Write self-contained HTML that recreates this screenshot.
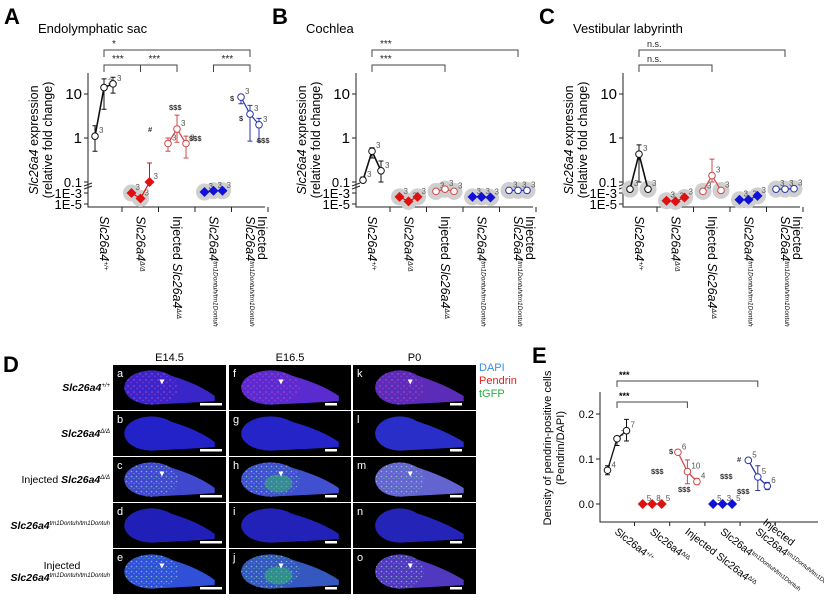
<!DOCTYPE html>
<html><head><meta charset="utf-8"><style>
body{margin:0;background:#fff;}
svg{display:block;font-family:"Liberation Sans",sans-serif;}
</style></head><body>
<svg id="fig" width="824" height="607" viewBox="0 0 824 607" xmlns="http://www.w3.org/2000/svg">
<defs>
<pattern id="pdots" width="6" height="6" patternUnits="userSpaceOnUse"><circle cx="2" cy="2" r="0.9" fill="#e050c0"/><circle cx="5" cy="4.5" r="0.7" fill="#c040ff"/></pattern>
<pattern id="gdots" width="5" height="5" patternUnits="userSpaceOnUse"><circle cx="1.5" cy="1.5" r="0.8" fill="#d0ffd0"/><circle cx="4" cy="3.5" r="0.6" fill="#60ff80"/></pattern>
</defs>
<g id="panels"></g>
</svg>
<script>
// ---------- data (panels A-C: log scale, 5 groups x 3 points) ----------
const catLabels = ["+/+","Δ/Δ","injΔ","tm","injtm"];
const aVals = [[1.1,14,17],[1e-3,1e-4,0.1],[0.75,1.6,0.75],[1.5e-3,2.5e-3,2.5e-3],[8.5,3.5,2]];
const aLo   = [[0.5,4.5,10.5],[null,null,0.1],[0.5,0.8,0.35],[null,null,null],[6,0.85,0.85]];
const aHi   = [[1.9,22,24],[null,null,0.27],[1,3.3,1.1],[null,null,null],[9.5,5.5,2.8]];
const bVals = [[0.11,0.5,0.18],[2e-4,3e-5,2e-4],[2e-3,5e-3,2e-3],[2e-4,2e-4,1.5e-4],[3e-3,3e-3,3e-3]];
const bLo   = [[0.09,0.35,0.1],[null,null,null],[null,null,null],[null,null,null],[null,null,null]];
const bHi   = [[0.13,0.6,0.3],[null,null,null],[null,null,null],[null,null,null],[null,null,null]];
const cVals = [[5e-3,0.43,5e-3],[4e-5,3e-5,1.5e-4],[2e-3,0.14,3e-3],[6e-5,6e-5,3e-4],[5e-3,5e-3,6e-3]];
const cLo   = [[null,0.1,null],[null,null,null],[null,0.1,null],[null,null,null],[null,null,null]];
const cHi   = [[null,0.7,null],[null,null,null],[null,0.33,null],[null,null,null],[null,null,null]];
const yTickLabels = ["10","1","0.1","1E-3","1E-5"];
const yTickValues = [10,1,0.1,1e-3,1e-5];
// ---------- panel E data ----------
const eVals = [[0.075,0.145,0.163],[0,0,0],[0.115,0.072,0.05],[0,0,0],[0.097,0.06,0.04]];
const eLo   = [[0.065,0.13,0.14],[null,null,null],[0.11,0.045,0.043],[null,null,null],[0.093,0.03,0.032]];
const eHi   = [[0.085,0.15,0.188],[null,null,null],[0.12,0.098,0.057],[null,null,null],[0.1,0.085,0.048]];
const eN    = [["4","7","7"],["5","8","5"],["6","10","4"],["5","3","5"],["5","5","6"]];
const eTickLabels = ["0.2","0.1","0.0"];
const eTickValues = [0.2,0.1,0];

const NS="http://www.w3.org/2000/svg";
const root=document.getElementById('panels');
function el(tag,attrs,parent,txt){const e=document.createElementNS(NS,tag);for(const k in attrs)e.setAttribute(k,attrs[k]);if(txt!==undefined)e.textContent=txt;(parent||root).appendChild(e);return e;}
const colors=["#111","#e01010","#d04848","#1010d8","#2a36a8"];

function yLog(v){const l=Math.log10(v);if(l>=-1)return 138-44*l;return 182+(-1-l)*5.5;}

function logPanel(off,letter,title,vals,lo,hi,brackets){
  const g=el('g',{});
  
  
  const pl=el('text',{x:off+4,y:24,'font-size':22,'font-weight':'bold'},g,letter);
  
  const tt=el('text',{x:off+38,y:33,'font-size':13},g,title);
  
  const ax=off+88;
  const yl=el('path',{d:`M${ax} 73 V207 H${off+265}`,stroke:'#222','stroke-width':1,fill:'none'},g);
  
  el('path',{d:`M${ax-4} 186 l8 -3 M${ax-4} 189 l8 -3`,stroke:'#222','stroke-width':1},g);
  yTickValues.forEach((v,i)=>{const y=yLog(v);
    el('line',{x1:ax-4,x2:ax,y1:y,y2:y,stroke:'#222'},g);
    const t=el('text',{x:ax-6,y:y+5,'font-size':i<2?15:13,'text-anchor':'end'},g,yTickLabels[i]);
    });
  const ytl=el('text',{transform:`translate(${off+38},140) rotate(-90)`,'font-size':12.5,'text-anchor':'middle'},g);
  
  el('tspan',{x:0,y:0,'font-style':'italic'},ytl,'Slc26a4');el('tspan',{},ytl,' expression');
  el('tspan',{x:0,y:14},ytl,'(relative fold change)');
  const cx=i=>off+104+i*36.5;
  for(let i=0;i<5;i++){el('line',{x1:cx(i)+18,x2:cx(i)+18,y1:207,y2:212,stroke:'#222'},g);}
  const labs=[['','Slc26a4','+/+'],['','Slc26a4','Δ/Δ'],['Injected ','Slc26a4','Δ/Δ'],['','Slc26a4','tm1Dontuh/tm1Dontuh'],['','Slc26a4','tm1Dontuh/tm1Dontuh']];
  labs.forEach((L,i)=>{const x=cx(i)-4;
    const t=el('text',{transform:`translate(${x},216) rotate(90)`,'font-size':12.5},g);
    
    if(i==4){el('tspan',{x:0,y:-12},t,'Injected');el('tspan',{x:0,y:0,'font-style':'italic'},t,L[1]);}
    else{if(L[0])el('tspan',{},t,L[0]);el('tspan',{'font-style':'italic'},t,L[1]);}
    el('tspan',{'font-size':6.5,dy:-4,'font-style':'italic'},t,L[2]);});
  vals.forEach((grp,gi)=>{
    const xs=grp.map((v,j)=>cx(gi)+(j-1)*9),ys=grp.map(v=>yLog(v));
    grp.forEach((v,j)=>{if(v<0.1){el('circle',{cx:xs[j],cy:ys[j],r:8.5,fill:'#cfcfcf'},g);}});
    const ln=el('polyline',{points:xs.map((x,j)=>x+','+ys[j]).join(' '),fill:'none',stroke:colors[gi],'stroke-width':gi==0?1.6:1.2},g);
    
    grp.forEach((v,j)=>{
      if(hi[gi][j]!=null){const y1=yLog(hi[gi][j]),y2=yLog(lo[gi][j]);
        el('path',{d:`M${xs[j]} ${y1} V${y2} M${xs[j]-2.5} ${y1} h5 M${xs[j]-2.5} ${y2} h5`,stroke:colors[gi],'stroke-width':1,fill:'none'},g);}
      let p;
      if(gi==1||gi==3){p=el('path',{d:`M${xs[j]} ${ys[j]-5} l5 5 l-5 5 l-5 -5z`,fill:colors[gi]},g);}
      else p=el('circle',{cx:xs[j],cy:ys[j],r:3.3,fill:'#fff',stroke:colors[gi],'stroke-width':1},g);
      
      el('text',{x:xs[j]+4,y:ys[j]-3,'font-size':8,fill:'#555'},g,'3');
    });
  });
  brackets.forEach(br=>{const x1=cx(br[0]),x2=cx(br[1]),y=br[2];
    const b=el('path',{d:`M${x1} ${y+7} V${y} H${x2} V${y+7}`,stroke:'#444',fill:'none','stroke-width':1},g);
    
    el('text',{x:x1+8,y:y-3,'font-size':br[3]=='n.s.'?9:10,fill:'#222'},g,br[3]);});
}
logPanel(0,'A','Endolymphatic sac',aVals,aLo,aHi,[[0,4,50,'*'],[0,2,65,'***'],[1,2,65,'***'],[3,4,65,'***']]);
logPanel(268,'B','Cochlea',bVals,bLo,bHi,[[0,4,50,'***'],[0,2,65,'***']]);
logPanel(535,'C','Vestibular labyrinth',cVals,cLo,cHi,[[0,4,50,'n.s.'],[0,2,65,'n.s.']]);
[['$$$',169,110],['$$$',189,141],['#',148,132],['$',230,101],['$',239,121],['$$$',257,143]].forEach(a=>{el('text',{x:a[1],y:a[2],'font-size':7.5,'font-weight':'bold',fill:'#333'},root,a[0]);});

// ---------- Panel D (micrographs) ----------
const dg=el('g',{});
el('text',{x:3,y:372,'font-size':22,'font-weight':'bold'},dg,'D');
const colX=[113,229,353],colW=[113,122,123],rowY=[365,411,457,503,549],rowH=45;
['E14.5','E16.5','P0'].forEach((t,i)=>{const h=el('text',{x:colX[i]+colW[i]/2,y:361,'font-size':11,'text-anchor':'middle'},dg,t);});
[['DAPI','#3a8ee8',371],['Pendrin','#e02020',384],['tGFP','#20b040',397]].forEach(l=>{const t=el('text',{x:479,y:l[2],'font-size':11,fill:l[1]},dg,l[0]);});
const rowLabels=[['','+/+'],['','Δ/Δ'],['Injected ','Δ/Δ'],['','tm1Dontuh/tm1Dontuh'],['Injected','tm1Dontuh/tm1Dontuh']];
rowLabels.forEach((r,i)=>{const y=rowY[i]+26;
  const t=el('text',{x:110,y:i==4?y+6:y,'font-size':10.5,'text-anchor':'end'},dg);
  
  if(i==2)el('tspan',{},t,r[0]);
  el('tspan',{'font-style':'italic','font-weight':'bold'},t,'Slc26a4');el('tspan',{'font-size':6,dy:-4,'font-style':'italic'},t,r[1]);
  if(i==4){el('text',{x:62,y:y-6,'font-size':10.5,'text-anchor':'middle'},dg,'Injected');}
});
const fills=[["#3a26c8","#5a2cd0","#5a2cb8"],["#2222c8","#2424c8","#2a2ec8"],["#4048d0","#4050d0","#6464d0"],["#2020b8","#2222b8","#2424b8"],["#3050d8","#3458c0","#5038c0"]];
const letters="abcdefghijklmno";
for(let c=0;c<3;c++)for(let r=0;r<5;r++){
  const x=colX[c],y=rowY[r],w=colW[c];
  const tg=el('g',{},dg);
  el('rect',{x:x,y:y,width:w,height:rowH,fill:'#000'},tg);
  const hx=x+w*(c==2?0.38:0.34),hy=y+rowH*0.5,rx=w*(c==2?0.2:0.24),ry=rowH*0.38;
  const tail=`M${hx} ${hy-ry} Q${hx+rx*1.6} ${hy-ry*0.4} ${x+w*0.9} ${hy+ry*0.5} L${x+w*0.9} ${hy+ry*0.8} Q${hx+rx*1.4} ${hy+ry*0.9} ${hx} ${hy+ry} Z`;
  const shp=el('g',{},tg);
  el('ellipse',{cx:hx,cy:hy,rx:rx,ry:ry,fill:fills[r][c]},shp);
  el('path',{d:tail,fill:fills[r][c]},shp);
  if(r==0){el('ellipse',{cx:hx,cy:hy,rx:rx,ry:ry,fill:'url(#pdots)',opacity:0.6},tg);}
  if(r==2||r==4){el('ellipse',{cx:hx,cy:hy,rx:rx,ry:ry,fill:'url(#gdots)',opacity:0.55},tg);}
  if((r==2||r==4)&&c==1)el('ellipse',{cx:hx+8,cy:hy+4,rx:14,ry:9,fill:'#30c060',opacity:0.5},tg);
  el('rect',{x:x+w-26,y:y+rowH-7,width:c==0?22:12,height:2.5,fill:'#fff'},tg);
  el('text',{x:x+4,y:y+12,'font-size':11,fill:'#fff'},tg,letters[c*5+r]);
  if(r==0||r==2||r==4)el('path',{d:`M${hx+8} ${hy-8} l5 0 l-2.5 5z`,fill:'#fff'},tg);
}

// ---------- Panel E ----------
const eg=el('g',{});
el('text',{x:532,y:363,'font-size':22,'font-weight':'bold'},eg,'E');
const eY=v=>504-v*450, eX=i=>617+i*35.2;
el('path',{d:'M600 392 V522 H818',stroke:'#222',fill:'none'},eg);
eTickValues.forEach((v,i)=>{el('line',{x1:596,x2:600,y1:eY(v),y2:eY(v),stroke:'#222'},eg);
  const t=el('text',{x:594,y:eY(v)+4,'font-size':11,'text-anchor':'end'},eg,eTickLabels[i]);});
for(let i=0;i<5;i++)el('line',{x1:eX(i)+17.5,x2:eX(i)+17.5,y1:522,y2:526,stroke:'#222'},eg);
const et=el('text',{transform:'translate(551,448) rotate(-90)','font-size':11,'text-anchor':'middle'},eg);

el('tspan',{x:0,y:0},et,'Density of pendrin-positive cells');el('tspan',{x:0,y:13},et,'(Pendrin/DAPI)');
const eLabs=[['','+/+'],['','Δ/Δ'],['Injected ','Δ/Δ'],['','tm1Dontuh/tm1Dontuh'],['','tm1Dontuh/tm1Dontuh']];
eLabs.forEach((L,i)=>{const t=el('text',{transform:`translate(${eX(i)-3},533) rotate(38)`,'font-size':10.5},eg);
  
  if(i==4){el('tspan',{x:0,y:-12},t,'Injected');el('tspan',{x:0,y:0},t,'Slc26a4');}else{if(L[0])el('tspan',{},t,L[0]);el('tspan',{},t,'Slc26a4');}
  el('tspan',{'font-size':6,dy:-3},t,L[1]);});
eVals.forEach((grp,gi)=>{
  const xs=grp.map((v,j)=>eX(gi)+(j-1)*9.5),ys=grp.map(v=>eY(v));
  const ln=el('polyline',{points:xs.map((x,j)=>x+','+ys[j]).join(' '),fill:'none',stroke:colors[gi],'stroke-width':1.3},eg);
  
  grp.forEach((v,j)=>{
    if(eHi[gi][j]!=null){const y1=eY(eHi[gi][j]),y2=eY(eLo[gi][j]);
      el('path',{d:`M${xs[j]} ${y1} V${y2} M${xs[j]-2.5} ${y1} h5 M${xs[j]-2.5} ${y2} h5`,stroke:colors[gi],fill:'none'},eg);}
    let p;
    if(gi==1||gi==3)p=el('path',{d:`M${xs[j]} ${ys[j]-5} l5 5 l-5 5 l-5 -5z`,fill:colors[gi]},eg);
    else p=el('circle',{cx:xs[j],cy:ys[j],r:3.3,fill:'#fff',stroke:colors[gi]},eg);
    
    el('text',{x:xs[j]+4,y:ys[j]-3,'font-size':8,fill:'#555'},eg,eN[gi][j]);
  });
});
[[0,4,381],[0,2,402]].forEach(b=>{const x1=eX(b[0]),x2=eX(b[1]);
  el('path',{d:`M${x1} ${b[2]+6} V${b[2]} H${x2} V${b[2]+6}`,stroke:'#444',fill:'none'},eg);
  el('text',{x:x1+2,y:b[2]-3,'font-size':9,'font-weight':'bold'},eg,'***');});
[['$',669,454],['$$$',651,474],['$$$',678,492],['#',737,462],['$$$',720,479],['$$$',737,494]].forEach(a=>{el('text',{x:a[1],y:a[2],'font-size':7.5,'font-weight':'bold',fill:'#333'},eg,a[0]);});
</script>
</body></html>
